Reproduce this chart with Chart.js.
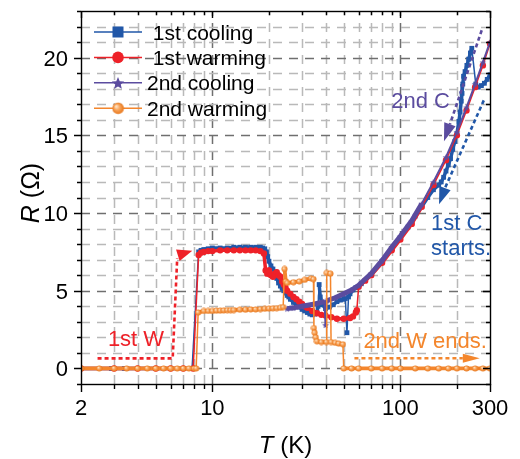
<!DOCTYPE html>
<html>
<head>
<meta charset="utf-8">
<script src="https://cdn.jsdelivr.net/npm/chart.js@4.4.1/dist/chart.umd.min.js"></script>
<style>
  html, body { margin: 0; padding: 0; background: #fff; }
  #chart { display: block; }
</style>
</head>
<body>
<canvas id="chart" width="520" height="459"></canvas>
<script>
// 1st cooling (blue squares), in measuring order
const cool1T = [300,290,280,270,260,252, 240,236,231,226,221,217,215,213,211,208,205,200,
  195,190,185,180,175,170,165,160, 150,140,130,120,110,100,90,80,70,62,
  58,56,54,53,52,51,50,48,46,44,42,40, 38.5,37.5,37,36.5,36,35,34,33,32,31,30,
  29,28,27,26,25.5,25,24.5,24,23.5,23,22.5,22,21.5,21,20.5,20,19.7,19.4,19,
  18.5,18,17,16,15,14,13,12,11,10,9.5,9,8.7,8.45, 7.8,7,6,5,4,3.4,2.9,2];
const cool1R = [18.9,18.6,18.35,18.2,18.1,18.3, 20.6,20.3,19.9,19.5,19.1,18.8,18.3,17.7,17.2,16.5,15.9,15.1,
  14.6,14.1,13.5,13.1,12.7,12.3,12.0,11.8, 11.5,11.0,10.4,9.8,9.1,8.4,7.7,6.9,6.05,5.45,
  5.2,5.05,4.8,4.6,2.3,4.5,4.45,4.4,4.3,4.1,3.95,3.85, 4.1,4.6,5.4,4.0,3.6,3.5,3.45,3.5,3.6,3.7,3.8,
  3.95,4.1,4.25,4.45,4.6,4.7,4.85,5.0,5.15,5.3,5.5,5.8,6.2,6.4,6.6,6.9,7.2,7.5,7.7,
  7.75,7.8,7.8,7.8,7.8,7.8,7.8,7.75,7.75,7.75,7.7,7.65,7.6,7.5, 0,0,0,0,0,0,0,0];

// 1st warming (red circles)
const warm1T = [2,3,4,5,6,7,7.9, 8.45,8.7,9,9.5,10, 11,12,13,14,15,16,17,18,
  18.8,19.2,19.6,20,20.5,21,21.5,22,22.5,23,23.5,24,24.5,25, 26,27,28,29,30,31,32,
  34,36,38,40,43,46,50,54,56,58,58.7, 60,65,70,80,90,100,115,130,150,175,200,225,250,275,300];
const warm1R = [0,0,0,0,0,0,0, 7.3,7.45,7.5,7.55,7.55, 7.6,7.6,7.6,7.6,7.6,7.6,7.6,7.55,
  7.4,6.3,6.1,6.3,6.0,5.9,6.1,6.2,6.0,5.9,5.6,5.4,5.2,5.0, 4.8,4.6,4.45,4.3,4.15,4.0,3.9,
  3.7,3.55,3.45,3.4,3.3,3.2,3.2,3.25,3.35,3.6,3.75, 5.25,5.65,6.0,6.8,7.6,8.3,9.3,10.4,11.8,13.4,15.0,16.6,18.1,19.5,20.9];

// 2nd cooling (purple stars)
const cool2T = [300,275,250,225,200,175,150,130,115,100,90,80,70,60,55,50,45,40.5,40,39.5,35,30,27,25];
const cool2R = [21.0,19.7,18.3,16.8,15.2,13.6,12.0,10.6,9.5,8.5,7.8,6.95,6.1,5.35,5.05,4.8,4.55,4.35,2.8,4.3,4.15,4.0,3.9,3.85];

// 2nd warming (orange balls)
const warm2T = [2,2.5,3,3.5,4,4.5,5,5.5,6,6.5,7,7.5,8,8.2,
  8.4,9,9.5,10,10.5,11,11.5,12,12.5,13,14,15,16,17,18,19,20,21,22,23,23.8,
  24.2,24.6,25,27,29,31,33.5,34.5, 34.7,35,35.5,36,38,40.4, 40.6,42.5, 42.8,45,47,49.5,
  50,55,60,70,80,90,100,120,140,160,180,200,225,250,275,300];
const warm2R = [0,0,0,0,0,0,0,0,0,0,0,0,0,0,
  3.6,3.7,3.7,3.7,3.72,3.72,3.74,3.75,3.75,3.76,3.78,3.78,3.8,3.8,3.82,3.84,3.85,3.87,3.88,3.9,3.95,
  6.4,5.6,5.5,5.55,5.6,5.7,5.8,5.75, 2.6,2.3,2.0,1.75,1.7,1.7, 6.15,6.1, 1.7,1.65,1.6,1.55,
  0,0,0,0,0,0,0,0,0,0,0,0,0,0,0,0];

const legendLabels = [' 1st cooling', ' 1st warming', '2nd cooling', '2nd warming'];
const xTickVals = [2, 10, 100, 300];
const xTickLabels = ['2', '10', '100', '300'];
const yTickVals = [0, 5, 10, 15, 20];
const yTickLabels = ['0', '5', '10', '15', '20'];
const xMinor = [3,4,5,6,7,8,9,20,30,40,50,60,70,80,90,200];

const blue = '#2157a8', red = '#ee2128', purple = '#5b4c9f', orange = '#f4862c';
const FONT = "'Liberation Sans', Arial, sans-serif";

// dotted arrows and their labels, in data units (T, R)
const arrows = [
  { color: red,    line: [[2.45,0.65],[6.15,0.65],[6.5,7.1]], base: [6.55,7.29], tip: [7.82,7.58] },
  { color: purple, line: [[271,21.76],[183.6,15.71]],         base: [183.6,15.71], tip: [170.7,14.62] },
  { color: blue,   line: [[278,17.25],[172.8,11.6]],          base: [172.8,11.6],  tip: [160.7,10.57] },
  { color: orange, line: [[57,0.66],[215,0.66]],              base: [215,0.66],    tip: [264.6,0.66] }
];
const notes = [
  { text: '1st W',       color: red,    at: [2.78,1.43] },
  { text: '2nd C',       color: purple, at: [89.5,16.74] },
  { text: '1st C',       color: blue,   at: [145.8,8.9] },
  { text: 'starts.',     color: blue,   at: [145.8,7.29] },
  { text: '2nd W ends.', color: orange, at: [63.6,1.31] }
];

function ball(r) {
  const c = document.createElement('canvas');
  const s = Math.ceil(r * 2 + 1);
  c.width = c.height = s;
  const g = c.getContext('2d');
  const m = s / 2;
  const gr = g.createRadialGradient(m - r * 0.35, m - r * 0.35, r * 0.1, m, m, r);
  gr.addColorStop(0, '#fde3c6');
  gr.addColorStop(0.45, '#f8a45a');
  gr.addColorStop(1, '#e8761a');
  g.fillStyle = gr;
  g.beginPath(); g.arc(m, m, r, 0, Math.PI * 2); g.fill();
  return c;
}

function starPath(g, cx, cy, ro, ri) {
  g.beginPath();
  for (let i = 0; i < 10; i++) {
    const r = i % 2 ? ri : ro;
    const a = -Math.PI / 2 + i * Math.PI / 5;
    g.lineTo(cx + r * Math.cos(a), cy + r * Math.sin(a));
  }
  g.closePath();
}

function star(ro) {
  const c = document.createElement('canvas');
  const s = Math.ceil(ro * 2 + 1);
  c.width = c.height = s;
  const g = c.getContext('2d');
  g.fillStyle = purple;
  starPath(g, s / 2, s / 2 + 0.5, ro, ro * 0.45);
  g.fill();
  return c;
}

function pts(T, R) { return T.map((t, i) => ({ x: t, y: R[i] })); }
function seg(thick, thin) {
  return { borderWidth: c => Math.abs(c.p1.parsed.y - c.p0.parsed.y) > 1.2 ? thin : thick };
}

const gridPlugin = {
  id: 'grid',
  beforeDatasetsDraw(chart) {
    const { ctx, chartArea: a, scales: { x, y } } = chart;
    ctx.save();
    ctx.lineWidth = 1.5;
    ctx.setLineDash([9, 7]);
    xMinor.concat([10, 100]).forEach(v => {
      const px = Math.round(x.getPixelForValue(v)) + 0.5;
      ctx.strokeStyle = (v === 10 || v === 100) ? '#6f6f6f' : '#b9b9b9';
      ctx.beginPath(); ctx.moveTo(px, a.bottom); ctx.lineTo(px, a.top); ctx.stroke();
    });
    for (let v = 0; v <= 22; v++) {
      const py = Math.round(y.getPixelForValue(v)) + 0.5;
      ctx.strokeStyle = v % 5 === 0 ? '#6f6f6f' : '#b9b9b9';
      ctx.beginPath(); ctx.moveTo(a.left, py); ctx.lineTo(a.right, py); ctx.stroke();
    }
    ctx.restore();
  }
};

const framePlugin = {
  id: 'frame',
  afterDatasetsDraw(chart) {
    const { ctx, chartArea: a, scales: { x, y } } = chart;
    ctx.save();
    // annotations
    arrows.forEach(ar => {
      ctx.strokeStyle = ar.color; ctx.fillStyle = ar.color;
      ctx.lineWidth = 2.6; ctx.setLineDash([4, 3]);
      ctx.beginPath();
      ar.line.forEach(([t, r], i) => {
        const px = x.getPixelForValue(t), py = y.getPixelForValue(r);
        i ? ctx.lineTo(px, py) : ctx.moveTo(px, py);
      });
      ctx.stroke();
      ctx.setLineDash([]);
      const bx = x.getPixelForValue(ar.base[0]), by = y.getPixelForValue(ar.base[1]);
      const tx = x.getPixelForValue(ar.tip[0]), ty = y.getPixelForValue(ar.tip[1]);
      const len = Math.hypot(tx - bx, ty - by), nx = -(ty - by) / len, ny = (tx - bx) / len;
      const hw = ar.color === orange ? 4.5 : 6;
      ctx.beginPath();
      ctx.moveTo(tx, ty);
      ctx.lineTo(bx + nx * hw, by + ny * hw);
      ctx.lineTo(bx - nx * hw, by - ny * hw);
      ctx.closePath(); ctx.fill();
    });
    ctx.font = '22px ' + FONT;
    ctx.textBaseline = 'alphabetic'; ctx.textAlign = 'left';
    notes.forEach(n => {
      ctx.fillStyle = n.color;
      ctx.fillText(n.text, x.getPixelForValue(n.at[0]), y.getPixelForValue(n.at[1]));
    });

    // frame and ticks
    ctx.strokeStyle = '#000'; ctx.lineWidth = 1.4;
    ctx.strokeRect(Math.round(a.left) + 0.5, Math.round(a.top) + 0.5,
      Math.round(a.right - a.left), Math.round(a.bottom - a.top));
    const allX = xMinor.concat(xTickVals);
    allX.forEach(v => {
      const px = Math.round(x.getPixelForValue(v)) + 0.5;
      const major = xTickVals.includes(v);
      ctx.beginPath();
      ctx.moveTo(px, a.bottom); ctx.lineTo(px, a.bottom + (major ? 8 : 5));
      ctx.moveTo(px, a.top); ctx.lineTo(px, a.top + (major ? 7 : 4));
      ctx.stroke();
    });
    for (let v = -1; v <= 23; v++) {
      const py = Math.round(y.getPixelForValue(v)) + 0.5;
      const major = v % 5 === 0;
      ctx.beginPath();
      ctx.moveTo(a.left, py); ctx.lineTo(a.left - (major ? 7 : 4), py);
      ctx.moveTo(a.right, py); ctx.lineTo(a.right - (major ? 7 : 4), py);
      ctx.stroke();
    }
    // tick labels
    ctx.fillStyle = '#000';
    ctx.font = '22px ' + FONT;
    ctx.textAlign = 'center';
    xTickVals.forEach((v, i) => ctx.fillText(xTickLabels[i], x.getPixelForValue(v), a.bottom + 31));
    ctx.textAlign = 'right';
    yTickVals.forEach((v, i) => ctx.fillText(yTickLabels[i], a.left - 13, y.getPixelForValue(v) + 8));

    // axis titles
    const title = (it, rest, cx, cy, size) => {
      ctx.font = 'italic ' + size + 'px ' + FONT; const w1 = ctx.measureText(it).width;
      ctx.font = size + 'px ' + FONT; const w2 = ctx.measureText(rest).width;
      const s = cx - (w1 + w2) / 2;
      ctx.textAlign = 'left';
      ctx.font = 'italic ' + size + 'px ' + FONT; ctx.fillText(it, s, cy);
      ctx.font = size + 'px ' + FONT; ctx.fillText(rest, s + w1, cy);
    };
    title('T', ' (K)', (a.left + a.right) / 2, 453, 24);
    ctx.save();
    ctx.translate(39, 193); ctx.rotate(-Math.PI / 2);
    title('R', ' (\u03A9)', 0, 0, 25);
    ctx.restore();

    // legend
    const styles = ['square', 'circle', 'star', 'ball'];
    const cols = [blue, red, purple, orange];
    ctx.font = '21px ' + FONT; ctx.textAlign = 'left';
    legendLabels.forEach((lab, i) => {
      const ry = 32 + i * 25.4;
      ctx.strokeStyle = cols[i]; ctx.lineWidth = 1.5;
      ctx.beginPath(); ctx.moveTo(94, ry); ctx.lineTo(142, ry); ctx.stroke();
      ctx.fillStyle = cols[i];
      if (styles[i] === 'square') ctx.fillRect(112.5, ry - 5.5, 11, 11);
      if (styles[i] === 'circle') { ctx.beginPath(); ctx.arc(118, ry, 5.8, 0, Math.PI * 2); ctx.fill(); }
      if (styles[i] === 'star') { starPath(ctx, 118, ry + 0.8, 6.5, 2.9); ctx.fill(); }
      if (styles[i] === 'ball') ctx.drawImage(ball(5.8), 118 - 6.4, ry - 6.4);
      ctx.fillStyle = '#000';
      ctx.fillText(lab, 147, ry + 7.5);
    });
    ctx.restore();
  }
};

new Chart(document.getElementById('chart'), {
  type: 'line',
  data: {
    datasets: [
      { label: '2nd warming', data: pts(warm2T, warm2R), borderColor: orange, backgroundColor: orange,
        pointStyle: ball(3), pointRadius: 3, segment: seg(3.8, 1.5), order: 1 },
      { label: '2nd cooling', data: pts(cool2T, cool2R), borderColor: purple, backgroundColor: purple,
        pointStyle: star(3.5), pointRadius: 3, segment: seg(5, 2), order: 2 },
      { label: '1st warming', data: pts(warm1T, warm1R), borderColor: red, backgroundColor: red,
        pointStyle: 'circle', pointRadius: 3.2, pointBorderWidth: 0, segment: seg(3.5, 1.5), order: 3 },
      { label: '1st cooling', data: pts(cool1T, cool1R), borderColor: blue, backgroundColor: blue,
        pointStyle: 'rect', pointRadius: 3.4, pointBorderWidth: 0, segment: seg(3.5, 1.5), order: 4 }
    ]
  },
  options: {
    responsive: false,
    animation: false,
    devicePixelRatio: 1,
    layout: { padding: { left: 81, right: 30, top: 11, bottom: 75 } },
    elements: { line: { tension: 0, fill: false } },
    scales: {
      x: { type: 'logarithmic', min: 2, max: 300, display: false },
      y: { type: 'linear', min: -1, max: 23, display: false }
    },
    plugins: { legend: { display: false }, tooltip: { enabled: false } }
  },
  plugins: [gridPlugin, framePlugin]
});
</script>
</body>
</html>
